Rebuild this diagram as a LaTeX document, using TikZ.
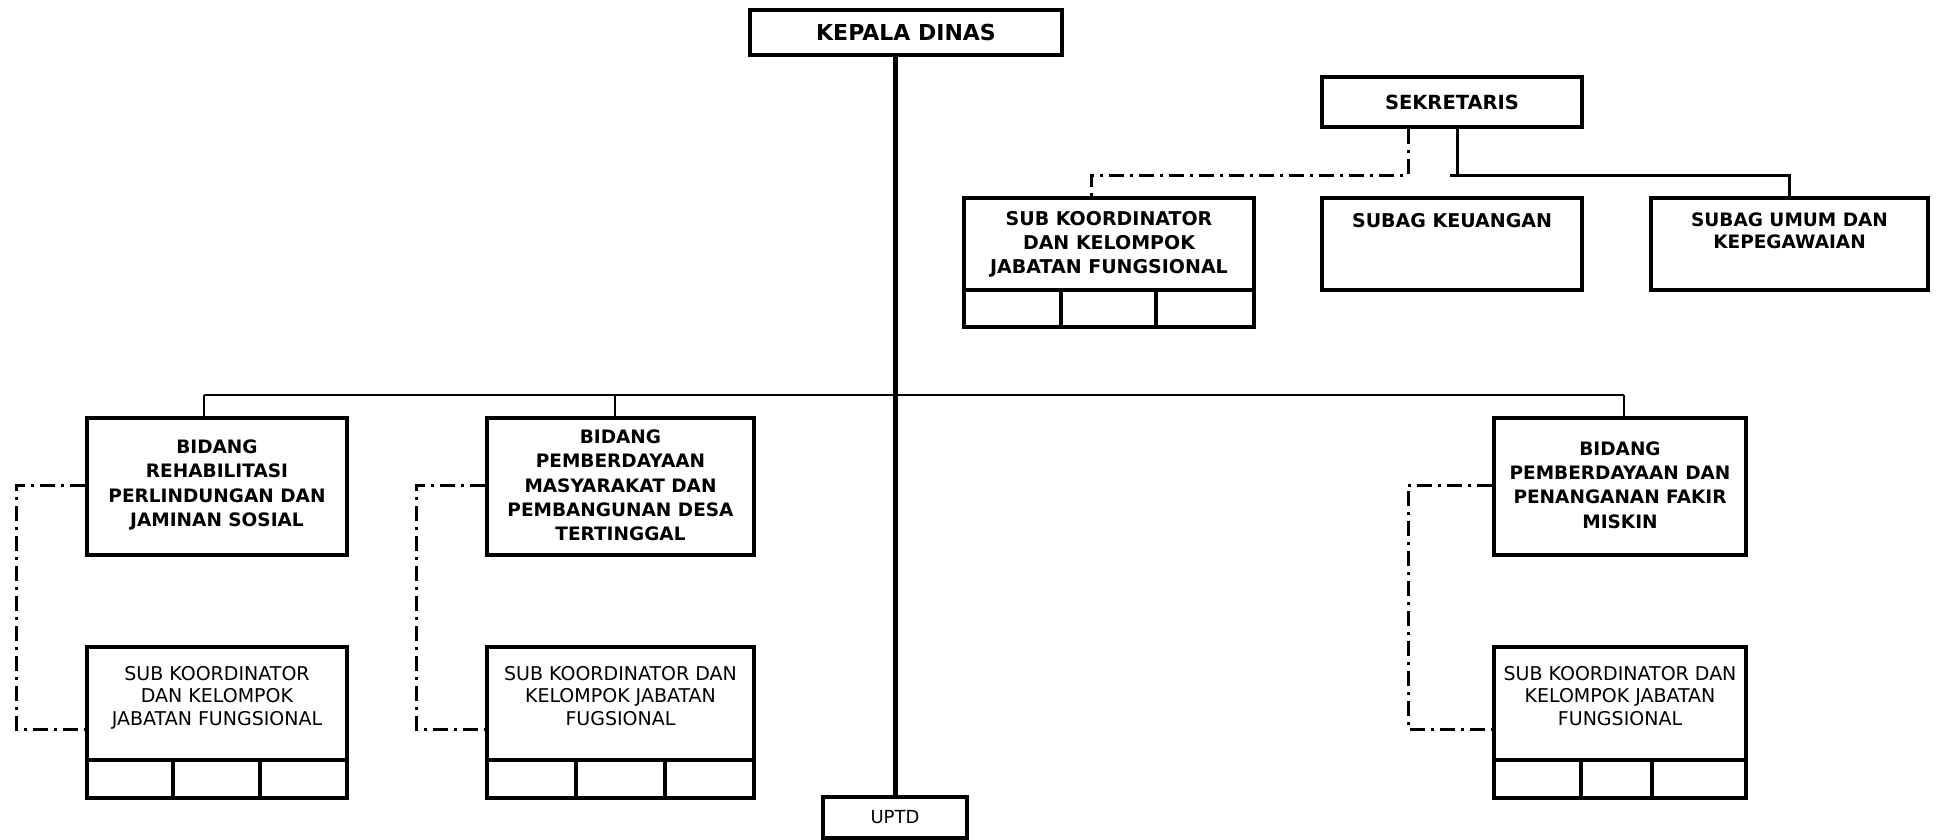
\documentclass[tikz,border=0pt]{standalone}
\usepackage{fontspec}
\setmainfont{DejaVu Sans}
\begin{document}
\begin{tikzpicture}[x=1pt,y=-1pt,
  bx/.style={draw, line width=4pt, inner sep=0pt, align=center},
  bt/.style={font=\bfseries\fontsize{18.5}{24.3}\selectfont, align=center, inner sep=0pt},
  btop/.style={font=\bfseries\fontsize{19}{24}\selectfont, align=center, inner sep=0pt},
  rt/.style={font=\fontsize{19}{22.5}\selectfont, align=center, inner sep=0pt},
  trunkline/.style={line width=5pt},
  busline/.style={line width=2.5pt},
  solidline/.style={line width=3pt},
  dashdot/.style={line width=3pt, dash pattern=on 15pt off 6pt on 3pt off 6pt},
  cellline/.style={line width=4pt}]
\useasboundingbox (0,0) rectangle (1937,840);

% top level
\node[bx, font=\bfseries\fontsize{22}{26}\selectfont, minimum width=312pt, minimum height=45pt] (kepala) at (906,32.5) {KEPALA DINAS};
\node[bx, minimum width=144pt, minimum height=41pt] (uptd) at (895,817.5) {};
\node[rt, font=\fontsize{18}{22}\selectfont] (uptdtxt) at (895,817.5) {UPTD};

% secretariat
\node[bx, font=\bfseries\fontsize{19.5}{24}\selectfont, minimum width=260pt, minimum height=50pt] (sek) at (1452,102) {SEKRETARIS};
\node[bx, minimum width=290pt, minimum height=129pt] (skt) at (1109,262.5) {};
\node[btop] (skttxt) at (1109,244) {SUB KOORDINATOR\\DAN KELOMPOK\\JABATAN FUNGSIONAL};
\draw[cellline] (964,290) -- (1254,290);
\draw[cellline] (1061,290) -- (1061,327);
\draw[cellline] (1156,290) -- (1156,327);
\node[bx, minimum width=260pt, minimum height=92pt] (keu) at (1452,244) {};
\node[btop, anchor=north] (keutxt) at (1452,213) {SUBAG KEUANGAN};
\node[bx, minimum width=277pt, minimum height=92pt] (umum) at (1789.5,244) {};
\node[btop, anchor=north, font=\bfseries\fontsize{18.5}{22}\selectfont] (umumtxt) at (1789.5,213) {SUBAG UMUM DAN\\KEPEGAWAIAN};

% bidang
\node[bx, minimum width=260pt, minimum height=137pt] (b1) at (217,486.5) {};
\node[bt] (b1txt) at (217,485) {BIDANG\\REHABILITASI\\PERLINDUNGAN DAN\\JAMINAN SOSIAL};
\node[bx, minimum width=267pt, minimum height=137pt] (b2) at (620.5,486.5) {};
\node[bt] (b2txt) at (620.5,485.5) {BIDANG\\PEMBERDAYAAN\\MASYARAKAT DAN\\PEMBANGUNAN DESA\\TERTINGGAL};
\node[bx, minimum width=252pt, minimum height=137pt] (b3) at (1620,486.5) {};
\node[bt] (b3txt) at (1620,485) {BIDANG\\PEMBERDAYAAN DAN\\PENANGANAN FAKIR\\MISKIN};

% sub koordinator boxes
\node[bx, minimum width=260pt, minimum height=151pt] (s1) at (217,722.5) {};
\node[rt, anchor=north] (s1txt) at (217,666) {SUB KOORDINATOR\\DAN KELOMPOK\\JABATAN FUNGSIONAL};
\draw[cellline] (87,760) -- (347,760);
\draw[cellline] (173,760) -- (173,798);
\draw[cellline] (260,760) -- (260,798);
\node[bx, minimum width=267pt, minimum height=151pt] (s2) at (620.5,722.5) {};
\node[rt, anchor=north] (s2txt) at (620.5,666) {SUB KOORDINATOR DAN\\KELOMPOK JABATAN\\FUGSIONAL};
\draw[cellline] (487,760) -- (754,760);
\draw[cellline] (576,760) -- (576,798);
\draw[cellline] (665,760) -- (665,798);
\node[bx, minimum width=252pt, minimum height=151pt] (s3) at (1620,722.5) {};
\node[rt, anchor=north] (s3txt) at (1620,666) {SUB KOORDINATOR DAN\\KELOMPOK JABATAN\\FUNGSIONAL};
\draw[cellline] (1494,760) -- (1746,760);
\draw[cellline] (1581,760) -- (1581,798);
\draw[cellline] (1652,760) -- (1652,798);

% trunk
\draw[trunkline] (kepala.south -| uptd.north) -- (uptd.north);

% bus
\coordinate (busL) at (204,395);
\coordinate (busM) at (615,395);
\coordinate (busR) at (1624,395);
\draw[busline] (busL) -- (busR);
\draw[busline] (busL) -- (busL |- b1.north);
\draw[busline] (busM) -- (busM |- b2.north);
\draw[busline] (busR) -- (busR |- b3.north);

% secretariat connectors
\coordinate (sekjoin) at (1457,175);
\coordinate (sekstub) at (1450,175);
\draw[solidline] (sek.south -| sekjoin) -- (sekjoin);
\draw[solidline] (sekstub) -- (sekstub -| umum.north) -- (umum.north);
\coordinate (sekdash) at (1408,175);
\coordinate (sktin) at (1091,175);
\draw[dashdot] (sek.south -| sekdash) -- (sekdash) -- (sktin) -- (sktin |- skt.north);

% dash-dot links bidang - sub koordinator
\coordinate (d1t) at (16,485);  \coordinate (d1b) at (16,729);
\coordinate (d2t) at (416,485); \coordinate (d2b) at (416,729);
\coordinate (d3t) at (1408,485); \coordinate (d3b) at (1408,729);
\draw[dashdot] (b1.west |- d1t) -- (d1t) -- (d1b) -- (s1.west |- d1b);
\draw[dashdot] (b2.west |- d2t) -- (d2t) -- (d2b) -- (s2.west |- d2b);
\draw[dashdot] (b3.west |- d3t) -- (d3t) -- (d3b) -- (s3.west |- d3b);
\end{tikzpicture}
\end{document}
